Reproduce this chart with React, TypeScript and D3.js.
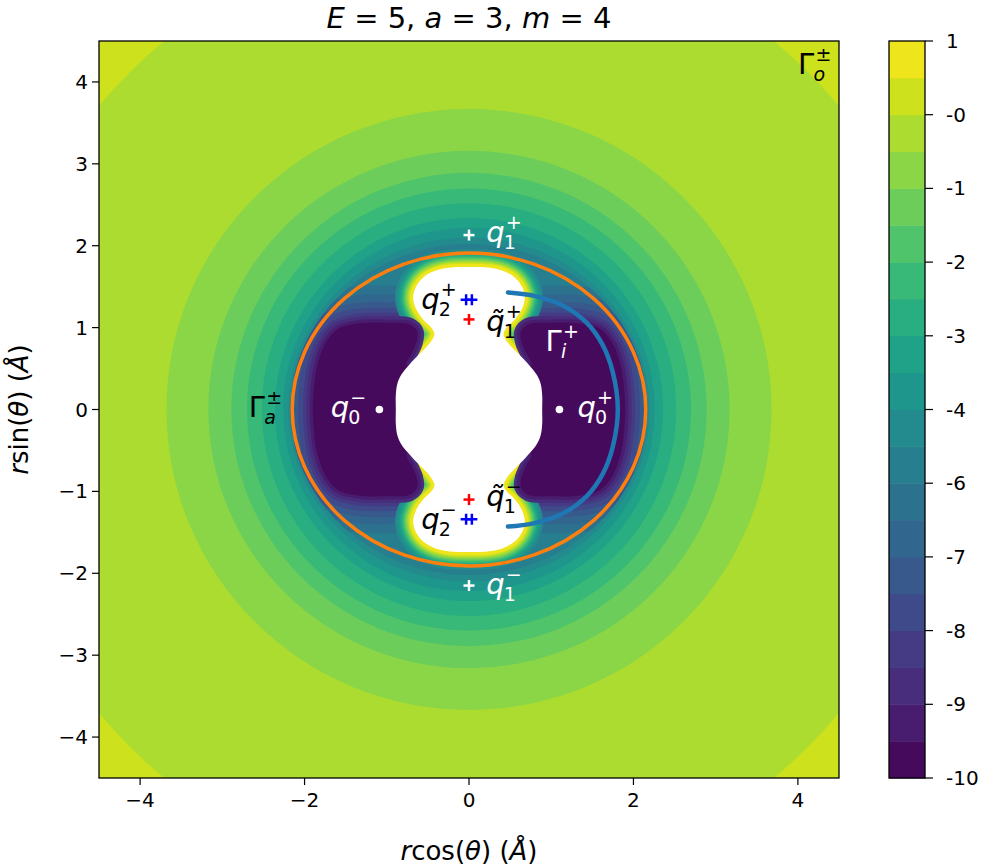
import * as d3 from "d3";

// contour levels of the colour bar (20 filled bands)
const levels = [
  -10, -9.45, -8.9, -8.35, -7.8, -7.25, -6.7, -6.15, -5.6, -5.05, -4.5, -3.95,
  -3.4, -2.85, -2.3, -1.75, -1.2, -0.65, -0.1, 0.45, 1.0,
];
const cbarTickLabels = ["-10", "-9", "-8", "-7", "-6", "-4", "-3", "-2", "-1", "-0", "1"];

const xTicks = [-4, -2, 0, 2, 4];
const yTicks = [-4, -3, -2, -1, 0, 1, 2, 3, 4];

// outer band boundaries (band index filled inside each ellipse)
const ringBand = [17, 16, 15, 14, 13, 12, 11, 10, 9, 8];
const ringRx = [5.83, 3.68, 3.17, 2.89, 2.7, 2.52, 2.36, 2.26, 2.2, 2.17];
const ringRy = [5.83, 3.67, 3.16, 2.89, 2.7, 2.52, 2.34, 2.22, 2.1, 2.02];
const cornerBand = 18;

// white (undefined) region, upper-right quarter, top -> right
const holeQx = [0, 0.25, 0.42, 0.56, 0.65, 0.68, 0.64, 0.55, 0.45, 0.42, 0.47, 0.56, 0.66, 0.75, 0.82, 0.87, 0.89, 0.89];
const holeQy = [1.74, 1.73, 1.69, 1.61, 1.49, 1.36, 1.22, 1.09, 0.99, 0.92, 0.82, 0.72, 0.62, 0.52, 0.43, 0.32, 0.18, 0];

// right dark lobe, upper half (from under the white bulge round to the outer side)
const lobeHx = [0.6, 0.62, 0.76, 0.7, 0.64, 0.63, 0.72, 1.0, 1.35, 1.6, 1.75, 1.85, 1.89, 1.9];
const lobeHy = [0, 0.3, 0.55, 0.68, 0.82, 0.95, 1.04, 1.06, 1.05, 0.98, 0.8, 0.52, 0.22, 0];

// offsets (in Å) of the bands round the lobes and round the white blobs
const lobeOuterBands = [7, 6, 5, 4, 3];
const lobeOuterOffsets = [0.45, 0.34, 0.25, 0.18, 0.12];
const lobeCoreBands = [2, 1];
const lobeCoreOffsets = [0.08, 0.04];
const haloBands = [9, 10, 11, 12, 13, 14, 15, 16, 17, 18, 19];
const haloOffsets = [0.22, 0.19, 0.165, 0.145, 0.13, 0.115, 0.1, 0.085, 0.07, 0.055, 0.04];

// Gamma_i^+ path, upper half
const arcHx = [0.474, 0.78, 1.14, 1.43, 1.63, 1.75, 1.81];
const arcHy = [1.43, 1.39, 1.27, 1.06, 0.78, 0.45, 0];

const orangeRx = 2.15;
const orangeRy = 1.91;

type Lbl = { x: number; y: number; base: string; sub: string; sup: string; color: string; greek?: boolean };
const labels: Lbl[] = [
  { x: 0.21, y: 2.05, base: "q", sub: "1", sup: "+", color: "white" },
  { x: -0.58, y: 1.23, base: "q", sub: "2", sup: "+", color: "black" },
  { x: 0.21, y: 0.96, base: "q\u0303", sub: "1", sup: "+", color: "black" },
  { x: 0.93, y: 0.71, base: "Γ", sub: "i", sup: "+", color: "white", greek: true },
  { x: -2.68, y: -0.09, base: "Γ", sub: "a", sup: "±", color: "black", greek: true },
  { x: -1.68, y: -0.09, base: "q", sub: "0", sup: "−", color: "white" },
  { x: 1.32, y: -0.09, base: "q", sub: "0", sup: "+", color: "white" },
  { x: 0.21, y: -1.18, base: "q\u0303", sub: "1", sup: "−", color: "black" },
  { x: -0.58, y: -1.46, base: "q", sub: "2", sup: "−", color: "black" },
  { x: 0.21, y: -2.25, base: "q", sub: "1", sup: "−", color: "white" },
  { x: 4.0, y: 4.1, base: "Γ", sub: "o", sup: "±", color: "black", greek: true },
];
const plusMarks = [
  { x: 0, y: 2.13, color: "white" },
  { x: 0, y: -2.15, color: "white" },
  { x: -0.035, y: 1.34, color: "blue" },
  { x: 0.035, y: 1.34, color: "blue" },
  { x: -0.035, y: -1.34, color: "blue" },
  { x: 0.035, y: -1.34, color: "blue" },
  { x: 0, y: 1.1, color: "red" },
  { x: 0, y: -1.1, color: "red" },
];
const dots = [
  { x: -1.09, y: 0 },
  { x: 1.1, y: 0 },
];

const W = 989;
const H = 866;
const left = 99;
const right = 839;
const top = 41;
const bottom = 778;
const cbLeft = 889;
const cbRight = 925;
const font = "DejaVu Sans";

// base symbol with stacked sub- and superscript, the way mathtext sets them
function MathLabel({ l, sx, sy }: { l: Lbl; sx: (v: number) => number; sy: (v: number) => number }) {
  const px = sx(l.x);
  const py = sy(l.y);
  const bw = l.greek ? 16.5 : 18.5;
  const subItalic = /[a-z]/.test(l.sub);
  return (
    <g fill={l.color} fontFamily={font}>
      <text x={px} y={py} fontSize={29} fontStyle={l.greek ? "normal" : "italic"}>
        {l.base}
      </text>
      <text x={px + bw + 1} y={py - 13} fontSize={19}>
        {l.sup}
      </text>
      <text x={px + bw - 1} y={py + 7} fontSize={19} fontStyle={subItalic ? "italic" : "normal"}>
        {l.sub}
      </text>
    </g>
  );
}

const mirrorY = (pts: [number, number][]) =>
  pts.concat(pts.slice(1, -1).reverse().map((p) => [p[0], -p[1]] as [number, number]));

export default function App() {
  const sx = d3.scaleLinear().domain([-4.5, 4.5]).range([left, right]);
  const sy = d3.scaleLinear().domain([-4.5, 4.5]).range([bottom, top]);
  const cb = d3.scaleLinear().domain([levels[0], levels[levels.length - 1]]).range([bottom, top]);
  const norm = d3.scaleLinear().domain([levels[0], levels[levels.length - 1]]).range([0, 1]);
  const bandColor = (i: number) => d3.interpolateViridis(norm((levels[i] + levels[i + 1]) / 2));
  const unit = sx(1) - sx(0);

  const closed = d3
    .line<[number, number]>()
    .x((d) => sx(d[0]))
    .y((d) => sy(d[1]))
    .curve(d3.curveCatmullRomClosed.alpha(0.5));

  // white region, full loop
  const q: [number, number][] = holeQx.map((v, i) => [v, holeQy[i]]);
  const rightSide = q.concat(q.slice(0, -1).reverse().map((p) => [p[0], -p[1]] as [number, number]));
  const hole = rightSide.concat(
    rightSide.slice(1, -1).reverse().map((p) => [-p[0], p[1]] as [number, number])
  );
  const holePath = closed(hole) ?? "";

  // lobes
  const lobeR = mirrorY(lobeHx.map((v, i) => [v, lobeHy[i]] as [number, number]));
  const lobeL = lobeR.map((p) => [-p[0], p[1]] as [number, number]);
  const lobePaths = [closed(lobeR) ?? "", closed(lobeL) ?? ""];

  // arc
  const ah: [number, number][] = arcHx.map((v, i) => [v, arcHy[i]]);
  const arc = ah.concat(ah.slice(0, -1).reverse().map((p) => [p[0], -p[1]] as [number, number]));
  const arcPath =
    d3
      .line<[number, number]>()
      .x((d) => sx(d[0]))
      .y((d) => sy(d[1]))
      .curve(d3.curveCatmullRom.alpha(0.5))(arc) ?? "";

  const cx = sx(0);
  const cy = sy(0);
  const inner = ringRx.length - 1;

  const offsetShapes = (d: string, bands: number[], offs: number[], key: string) =>
    bands.map((b, i) => (
      <path
        key={key + i}
        d={d}
        fill={bandColor(b)}
        stroke={bandColor(b)}
        strokeWidth={2 * offs[i] * unit}
        strokeLinejoin="round"
      />
    ));

  const minus = (t: number) => (t < 0 ? `\u2212${-t}` : `${t}`);

  return (
    <svg
      width={W}
      height={H}
      style={{ position: "absolute", left: 0, top: 0, background: "white" }}
      fontFamily={font}
    >
      <defs>
        <clipPath id="axclip">
          <rect x={left} y={top} width={right - left} height={bottom - top} />
        </clipPath>
        <clipPath id="innerclip">
          <ellipse cx={cx} cy={cy} rx={sx(ringRx[inner]) - cx} ry={cy - sy(ringRy[inner])} />
        </clipPath>
      </defs>

      {/* title */}
      <text x={(left + right) / 2} y={28} fontSize={29} textAnchor="middle">
        <tspan fontStyle="italic">E</tspan> = 5, <tspan fontStyle="italic">a</tspan> = 3,{" "}
        <tspan fontStyle="italic">m</tspan> = 4
      </text>

      <g clipPath="url(#axclip)">
        <rect x={left} y={top} width={right - left} height={bottom - top} fill={bandColor(cornerBand)} />
        {ringBand.map((b, i) => (
          <ellipse
            key={i}
            cx={cx}
            cy={cy}
            rx={sx(ringRx[i]) - cx}
            ry={cy - sy(ringRy[i])}
            fill={bandColor(b)}
          />
        ))}
        <g clipPath="url(#innerclip)">
          {lobePaths.map((p, k) => offsetShapes(p, lobeOuterBands, lobeOuterOffsets, `lo${k}-`))}
          {offsetShapes(holePath, haloBands, haloOffsets, "halo")}
          {lobePaths.map((p, k) => (
            <g key={k}>
              {offsetShapes(p, lobeCoreBands, lobeCoreOffsets, `lc${k}-`)}
              <path d={p} fill={bandColor(0)} />
            </g>
          ))}
          <path d={holePath} fill="white" />
        </g>

        <ellipse
          cx={cx}
          cy={cy}
          rx={sx(orangeRx) - cx}
          ry={cy - sy(orangeRy)}
          fill="none"
          stroke="#ff7f0e"
          strokeWidth={3.5}
        />
        <path d={arcPath} fill="none" stroke="#1f77b4" strokeWidth={4.5} strokeLinecap="round" />

        {plusMarks.map((m, i) => (
          <g key={i} stroke={m.color} strokeWidth={2.5}>
            <line x1={sx(m.x) - 5.5} x2={sx(m.x) + 5.5} y1={sy(m.y)} y2={sy(m.y)} />
            <line x1={sx(m.x)} x2={sx(m.x)} y1={sy(m.y) - 5.5} y2={sy(m.y) + 5.5} />
          </g>
        ))}
        {dots.map((d, i) => (
          <circle key={i} cx={sx(d.x)} cy={sy(d.y)} r={3.8} fill="white" />
        ))}
        {labels.map((l, i) => (
          <MathLabel key={i} l={l} sx={sx} sy={sy} />
        ))}
      </g>

      <rect
        x={left}
        y={top}
        width={right - left}
        height={bottom - top}
        fill="none"
        stroke="black"
        strokeWidth={1.3}
      />

      {/* x axis */}
      {xTicks.map((t) => (
        <g key={t}>
          <line x1={sx(t)} x2={sx(t)} y1={bottom} y2={bottom + 7} stroke="black" strokeWidth={1.2} />
          <text x={sx(t)} y={bottom + 29} fontSize={20} textAnchor="middle">
            {minus(t)}
          </text>
        </g>
      ))}
      <text x={(left + right) / 2} y={860} fontSize={26} textAnchor="middle">
        <tspan fontStyle="italic">r</tspan>cos(<tspan fontStyle="italic">θ</tspan>) (
        <tspan fontStyle="italic">Å</tspan>)
      </text>

      {/* y axis */}
      {yTicks.map((t) => (
        <g key={t}>
          <line x1={left - 7} x2={left} y1={sy(t)} y2={sy(t)} stroke="black" strokeWidth={1.2} />
          <text x={left - 11} y={sy(t) + 7} fontSize={20} textAnchor="end">
            {minus(t)}
          </text>
        </g>
      ))}
      <text transform={`translate(28, ${(top + bottom) / 2}) rotate(-90)`} fontSize={26} textAnchor="middle">
        <tspan fontStyle="italic">r</tspan>sin(<tspan fontStyle="italic">θ</tspan>) (
        <tspan fontStyle="italic">Å</tspan>)
      </text>

      {/* colour bar */}
      {levels.slice(0, -1).map((v, i) => (
        <rect
          key={i}
          x={cbLeft}
          y={cb(levels[i + 1])}
          width={cbRight - cbLeft}
          height={cb(v) - cb(levels[i + 1]) + 0.5}
          fill={bandColor(i)}
        />
      ))}
      <rect
        x={cbLeft}
        y={top}
        width={cbRight - cbLeft}
        height={bottom - top}
        fill="none"
        stroke="black"
        strokeWidth={1.3}
      />
      {cbarTickLabels.map((s, i) => {
        const v = levels[i * 2];
        return (
          <g key={i}>
            <line x1={cbRight} x2={cbRight + 8} y1={cb(v)} y2={cb(v)} stroke="black" strokeWidth={1.2} />
            <text x={cbRight + 21} y={cb(v) + 7} fontSize={20}>
              {s}
            </text>
          </g>
        );
      })}
    </svg>
  );
}
